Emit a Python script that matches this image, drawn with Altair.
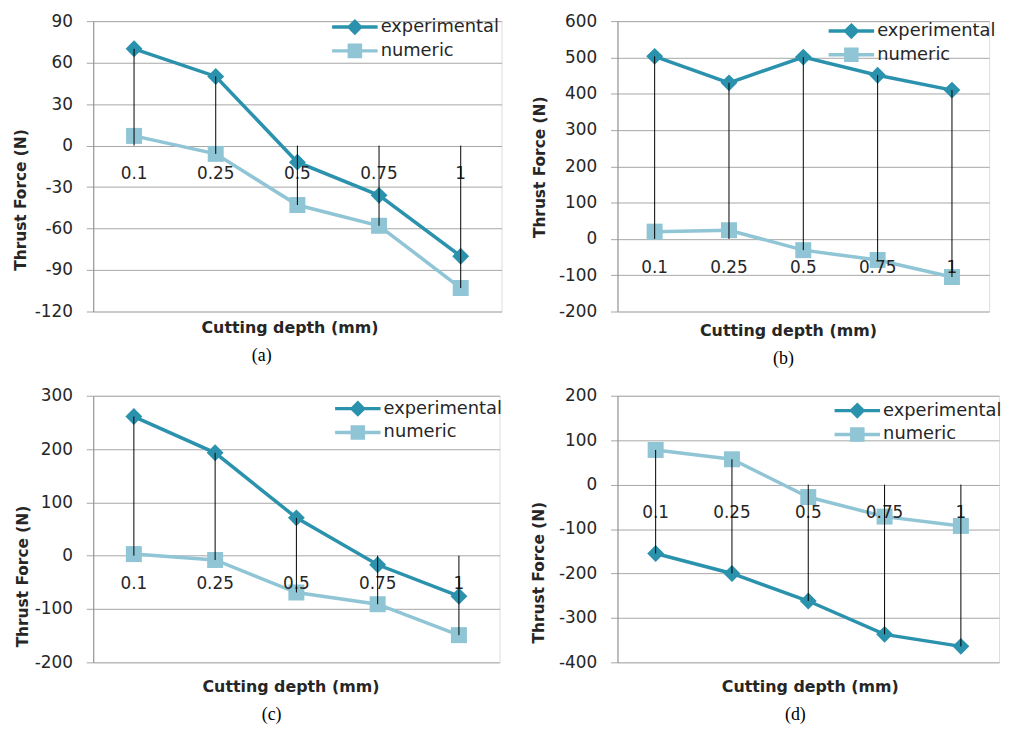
import altair as alt
import pandas as pd

depths = ["0.1", "0.25", "0.5", "0.75", "1"]
series_names = ["experimental", "numeric"]

a_exp = [70, 50, -12, -36, -80]
a_num = [7, -6, -43, -58, -103]
b_exp = [503, 430, 501, 451, 410]
b_num = [20, 24, -31, -58, -105]
c_exp = [261, 193, 71, -17, -76]
c_num = [3, -8, -69, -91, -149]
d_exp = [-155, -200, -262, -337, -364]
d_num = [78, 57, -28, -72, -93]

a_ticks = [-120, -90, -60, -30, 0, 30, 60, 90]
b_ticks = [-200, -100, 0, 100, 200, 300, 400, 500, 600]
c_ticks = [-200, -100, 0, 100, 200, 300]
d_ticks = [-400, -300, -200, -100, 0, 100, 200]

captions = ["(a)", "(b)", "(c)", "(d)"]

EXP_COLOR = "#2b92ad"
NUM_COLOR = "#90c5d5"
GRID = "#a6a6a6"
TEXT = "#262626"
FONT = "DejaVu Sans"

# legend symbols: a line with the marker in its middle (unit r = 9 px)
PATH_EXP = "M-2.55,0H2.55M0,-0.64L0.64,0L0,0.64L-0.64,0Z"
PATH_NUM = "M-2.55,0H2.55M-0.62,-0.62H0.62V0.62H-0.62Z"


def panel(exp, num, yticks, w, h, ytx, yty, xtx, xtp, legx, legy, cap, capdx):
    long_df = pd.DataFrame({
        "depth": depths * 2,
        "series": [series_names[0]] * len(depths) + [series_names[1]] * len(depths),
        "value": exp + num,
    })
    exp_df = pd.DataFrame({"depth": depths, "value": exp})
    num_df = pd.DataFrame({"depth": depths, "value": num})
    rule_df = pd.DataFrame({
        "depth": depths,
        "lo": [min(0, e, n) for e, n in zip(exp, num)],
        "hi": [max(0, e, n) for e, n in zip(exp, num)],
    })
    lab_df = pd.DataFrame({"depth": depths, "zero": [0] * len(depths)})

    x = alt.X(
        "depth:N", sort=depths,
        scale=alt.Scale(type="point", padding=0.5),
        axis=alt.Axis(title="Cutting depth (mm)", labels=False, ticks=False,
                      domain=False, grid=False, titleFont=FONT, titleFontSize=16,
                      titleFontWeight="bold", titleColor=TEXT, titleX=xtx,
                      titlePadding=xtp),
    )

    def y(field):
        return alt.Y(
            f"{field}:Q",
            scale=alt.Scale(domain=[yticks[0], yticks[-1]], nice=False, zero=False),
            axis=alt.Axis(values=yticks, title="Thrust Force (N)", grid=True,
                          labelExpr="'' + datum.value",
                          gridColor=GRID, gridWidth=1, tickSize=7, tickColor=GRID,
                          domainColor="#8c8c8c", labelPadding=14, labelFont=FONT,
                          labelFontSize=17, labelColor=TEXT, titleFont=FONT,
                          titleFontSize=15.5, titleFontWeight="bold", titleColor=TEXT,
                          titleAngle=270, titleBaseline="middle", titleX=ytx,
                          titleY=yty),
        )

    line_num = alt.Chart(num_df).mark_line(color=NUM_COLOR, strokeWidth=3.5).encode(x=x, y=y("value"))
    pts_num = alt.Chart(num_df).mark_point(shape="square", filled=True, size=260,
                                           color=NUM_COLOR, opacity=1).encode(x=x, y=y("value"))
    line_exp = alt.Chart(exp_df).mark_line(color=EXP_COLOR, strokeWidth=3.5).encode(x=x, y=y("value"))
    pts_exp = alt.Chart(exp_df).mark_point(shape="diamond", filled=True, size=290,
                                           color=EXP_COLOR, opacity=1).encode(x=x, y=y("value"))
    labels = alt.Chart(lab_df).mark_text(dy=29, font=FONT, fontSize=17, color=TEXT,
                                         baseline="middle").encode(x=x, y=y("zero"), text="depth:N")
    rules = alt.Chart(rule_df).mark_rule(color="black", strokeWidth=1).encode(
        x=x, y=y("lo"), y2="hi:Q")

    leg = alt.Legend(title=None, orient="none", legendX=legx, legendY=legy,
                     symbolSize=324, symbolStrokeWidth=3.5, symbolOpacity=1,
                     labelFont=FONT, labelFontSize=18, labelColor=TEXT,
                     labelOffset=15, rowPadding=-5, padding=0)
    legend_layer = alt.Chart(long_df).mark_point(size=0, filled=True, opacity=1).encode(
        x=x, y=y("value"),
        fill=alt.Fill("series:N", scale=alt.Scale(domain=series_names, range=[EXP_COLOR, NUM_COLOR]), legend=leg),
        stroke=alt.Stroke("series:N", scale=alt.Scale(domain=series_names, range=[EXP_COLOR, NUM_COLOR]), legend=leg),
        shape=alt.Shape("series:N", scale=alt.Scale(domain=series_names, range=[PATH_EXP, PATH_NUM]), legend=leg),
    )

    return alt.layer(line_num, pts_num, line_exp, pts_exp, labels, rules, legend_layer).properties(
        width=w, height=h,
        title=alt.TitleParams(text=cap, orient="bottom", font="Liberation Serif",
                              fontSize=18, fontWeight="normal", color="black",
                              anchor="middle", frame="group", dx=capdx, offset=12),
    )


pa = panel(a_exp, a_num, a_ticks, 412, 293, -73, 180, 198, 8, 253, -5, captions[0], -36)
pb = panel(b_exp, b_num, b_ticks, 375, 293, -79, 147, 172, 11, 225, -1, captions[1], -20)
pc = panel(c_exp, c_num, c_ticks, 410, 269, -71, 182, 199, 16, 256, 2, captions[2], -25)
pd_ = panel(d_exp, d_num, d_ticks, 385, 269, -80, 178, 194, 16, 231, 4, captions[3], -13)

chart = alt.concat(
    pa, pb, pc, pd_, columns=2, spacing={"row": 85, "column": 117}, bounds="flush",
).resolve_scale(
    fill="independent", stroke="independent", shape="independent", color="independent",
).resolve_legend(
    fill="independent", stroke="independent", shape="independent",
).properties(
    padding={"left": 5, "top": 0, "right": 0, "bottom": 0},
).configure_view(stroke=None).configure(background="white")

chart.save("out.html", embed_options={"renderer": "svg", "actions": False})
